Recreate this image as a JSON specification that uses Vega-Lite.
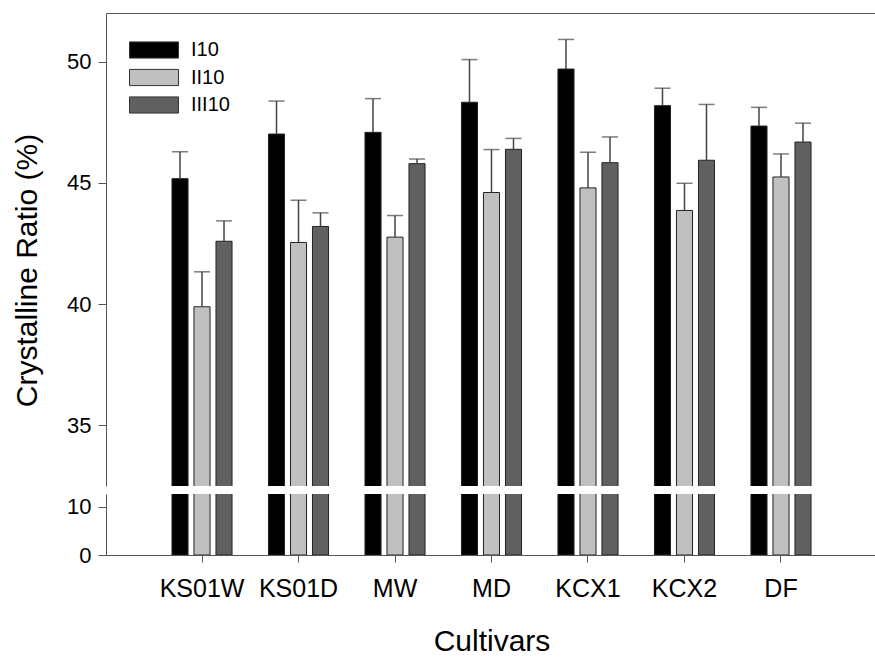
{
  "$schema": "https://vega.github.io/schema/vega-lite/v6.json",
  "padding": {"left": 12, "top": 13, "right": 0, "bottom": 5},
  "config": {
    "font": "Liberation Sans",
    "view": {"stroke": null},
    "axis": {"grid": false, "domainColor": "#555555", "tickColor": "#555555", "labelColor": "#000000", "titleColor": "#000000", "labelFont": "Liberation Sans", "titleFont": "Liberation Sans", "titleFontWeight": "normal"}
  },
  "data": {
    "values": [
      {"cultivar": "KS01W", "group": "I10", "value": 45.17, "upper": 46.28},
      {"cultivar": "KS01W", "group": "II10", "value": 39.89, "upper": 41.33},
      {"cultivar": "KS01W", "group": "III10", "value": 42.59, "upper": 43.43},
      {"cultivar": "KS01D", "group": "I10", "value": 47.01, "upper": 48.37},
      {"cultivar": "KS01D", "group": "II10", "value": 42.54, "upper": 44.28},
      {"cultivar": "KS01D", "group": "III10", "value": 43.2, "upper": 43.76},
      {"cultivar": "MW", "group": "I10", "value": 47.08, "upper": 48.47},
      {"cultivar": "MW", "group": "II10", "value": 42.76, "upper": 43.65},
      {"cultivar": "MW", "group": "III10", "value": 45.79, "upper": 45.98},
      {"cultivar": "MD", "group": "I10", "value": 48.32, "upper": 50.08},
      {"cultivar": "MD", "group": "II10", "value": 44.6, "upper": 46.37},
      {"cultivar": "MD", "group": "III10", "value": 46.38, "upper": 46.83},
      {"cultivar": "KCX1", "group": "I10", "value": 49.69, "upper": 50.91},
      {"cultivar": "KCX1", "group": "II10", "value": 44.79, "upper": 46.26},
      {"cultivar": "KCX1", "group": "III10", "value": 45.83, "upper": 46.89},
      {"cultivar": "KCX2", "group": "I10", "value": 48.18, "upper": 48.9},
      {"cultivar": "KCX2", "group": "II10", "value": 43.86, "upper": 44.98},
      {"cultivar": "KCX2", "group": "III10", "value": 45.93, "upper": 48.23},
      {"cultivar": "DF", "group": "I10", "value": 47.34, "upper": 48.11},
      {"cultivar": "DF", "group": "II10", "value": 45.24, "upper": 46.19},
      {"cultivar": "DF", "group": "III10", "value": 46.68, "upper": 47.46}
    ]
  },
  "spacing": 8,
  "resolve": {"scale": {"y": "independent"}},
  "vconcat": [
    {
      "width": 771,
      "height": 473,
      "encoding": {
        "x": {"field": "cultivar", "type": "nominal", "sort": null,
          "scale": {"paddingInner": 0.316, "paddingOuter": 0.653},
          "axis": {"orient": "top", "labels": false, "ticks": false, "title": null, "domain": true}},
        "xOffset": {"field": "group", "type": "nominal", "sort": ["I10", "II10", "III10"],
          "scale": {"paddingInner": 0.27, "paddingOuter": 0.135}}
      },
      "layer": [
        {
          "mark": {"type": "bar", "clip": true, "stroke": "#222222", "strokeWidth": 1},
          "encoding": {
            "y": {"field": "value", "type": "quantitative",
              "scale": {"domain": [32.5, 52], "nice": false, "zero": false},
              "axis": {"values": [35, 40, 45, 50], "title": "Crystalline Ratio (%)", "titleFontSize": 30,
                "labelFontSize": 22, "tickSize": 8, "labelPadding": 7,
                "titleX": -79, "titleY": 257, "titleBaseline": "middle", "titleAngle": -90}},
            "color": {"field": "group", "type": "nominal", "sort": ["I10", "II10", "III10"],
              "scale": {"domain": ["I10", "II10", "III10"], "range": ["#000000", "#c0c0c0", "#606060"]},
              "legend": {"title": null, "orient": "none", "legendX": 35, "legendY": 24,
                "symbolType": "M-2,-0.66H2V0.66H-2Z", "symbolSize": 600,
                "symbolStrokeColor": "#333333", "symbolStrokeWidth": 1, "symbolOpacity": 1,
                "labelFontSize": 20, "labelFont": "Liberation Sans", "labelOffset": 24, "rowPadding": 3.5, "padding": 0}}
          }
        },
        {
          "mark": {"type": "rule", "color": "#444444", "strokeWidth": 1.5},
          "encoding": {
            "y": {"field": "value", "type": "quantitative"},
            "y2": {"field": "upper"}
          }
        },
        {
          "mark": {"type": "tick", "color": "#444444", "thickness": 1.5, "size": 16},
          "encoding": {
            "y": {"field": "upper", "type": "quantitative"}
          }
        }
      ]
    },
    {
      "width": 771,
      "height": 61,
      "mark": {"type": "bar", "clip": true, "stroke": "#222222", "strokeWidth": 1},
      "encoding": {
        "x": {"field": "cultivar", "type": "nominal", "sort": null,
          "scale": {"paddingInner": 0.316, "paddingOuter": 0.653},
          "axis": {"title": "Cultivars", "titleFontSize": 30, "labelFontSize": 25, "labelAngle": 0,
            "tickSize": 7, "labelPadding": 14, "titlePadding": 25}},
        "xOffset": {"field": "group", "type": "nominal", "sort": ["I10", "II10", "III10"],
          "scale": {"paddingInner": 0.27, "paddingOuter": 0.135}},
        "y": {"field": "value", "type": "quantitative",
          "scale": {"domain": [0, 12.7], "nice": false},
          "axis": {"values": [0, 10], "title": null, "labelFontSize": 22, "tickSize": 8, "labelPadding": 7}},
        "color": {"field": "group", "type": "nominal", "legend": null}
      }
    }
  ]
}
